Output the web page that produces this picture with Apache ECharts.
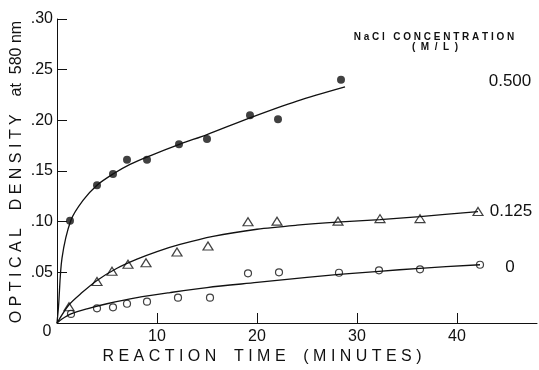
<!DOCTYPE html>
<html><head><meta charset="utf-8">
<script src="https://cdn.jsdelivr.net/npm/echarts@6/dist/echarts.min.js"></script>
<style>html,body{margin:0;padding:0;background:#fff}#c{width:539px;height:370px}</style>
</head><body><div id="c"></div>
<script>
// Measured points (minutes, optical density)
const x500 = [1.3, 4.0, 5.6, 7.0, 9.0, 12.2, 15.0, 19.3, 22.1, 28.4];
const y500 = [0.101, 0.136, 0.147, 0.161, 0.161, 0.1765, 0.1815, 0.205, 0.201, 0.240];
const x125 = [1.2, 4.0, 5.5, 7.1, 8.9, 12.0, 15.1, 19.1, 22.0, 28.1, 32.3, 36.3, 42.1];
const y125 = [0.016, 0.041, 0.051, 0.058, 0.0595, 0.070, 0.076, 0.100, 0.1005, 0.1005, 0.103, 0.103, 0.110];
const x0 = [1.4, 4.0, 5.6, 7.0, 9.0, 12.1, 15.3, 19.1, 22.2, 28.2, 32.2, 36.3, 42.3];
const y0 = [0.009, 0.0145, 0.0155, 0.019, 0.021, 0.025, 0.025, 0.049, 0.050, 0.0496, 0.052, 0.053, 0.0575];
// Fitted curves as drawn
const cx500 = [0, 0.15, 0.5, 1.4, 2.6, 4.0, 5.6, 7.3, 9.3, 12.3, 15.0, 19.3, 24.0, 28.8];
const cy500 = [0, 0.016, 0.064, 0.1016, 0.121, 0.136, 0.147, 0.1565, 0.165, 0.1765, 0.186, 0.2025, 0.219, 0.233];
const cx125 = [0, 1.2, 2.5, 4.0, 6.0, 8.0, 10.0, 12.3, 15.6, 20.0, 24.0, 28.0, 32.3, 36.3, 42.1];
const cy125 = [0, 0.018, 0.030, 0.042, 0.054, 0.063, 0.0705, 0.0775, 0.0855, 0.0925, 0.0965, 0.0995, 0.102, 0.105, 0.110];
const cx0 = [0, 0.5, 1.4, 3.0, 5.0, 8.0, 11.3, 15.0, 20.0, 25.0, 28.2, 32.2, 36.3, 42.3];
const cy0 = [0, 0.004, 0.009, 0.014, 0.019, 0.025, 0.030, 0.035, 0.040, 0.045, 0.048, 0.051, 0.054, 0.0575];
const xTicks = [10, 20, 30, 40];
const yTicks = [0.05, 0.10, 0.15, 0.20, 0.25, 0.30];
const yTickLabels = ['.05', '.10', '.15', '.20', '.25', '.30'];
const seriesLabels = ['0.500', '0.125', '0'];

const zip = (a, b) => a.map((v, i) => [v, b[i]]);
const ink = '#111';
const font = '"Liberation Sans", Arial, sans-serif';
const chart = echarts.init(document.getElementById('c'));
const curve = {type: 'line', smooth: 0.3, symbol: 'none', lineStyle: {color: ink, width: 1.3}};
chart.setOption({
  animation: false,
  backgroundColor: '#fff',
  grid: {left: 57, top: 19, right: 2, bottom: 47},
  xAxis: {
    type: 'value', min: 0, max: 48,
    splitLine: {show: false},
    axisLine: {lineStyle: {color: ink, width: 1}},
    axisTick: {inside: true, length: 10, customValues: xTicks, lineStyle: {color: ink}},
    axisLabel: {customValues: xTicks, color: ink, fontSize: 16, fontFamily: font, margin: 6}
  },
  yAxis: {
    type: 'value', min: 0, max: 0.30,
    splitLine: {show: false},
    axisLine: {lineStyle: {color: ink, width: 1}},
    axisTick: {inside: true, length: 10, customValues: yTicks, lineStyle: {color: ink}},
    axisLabel: {customValues: yTicks, color: ink, fontSize: 16, fontFamily: font, margin: 4,
      formatter: v => yTickLabels[yTicks.findIndex(t => Math.abs(t - v) < 1e-6)] || ''}
  },
  series: [
    Object.assign({data: zip(cx500, cy500)}, curve),
    Object.assign({data: zip(cx125, cy125)}, curve),
    Object.assign({data: zip(cx0, cy0)}, curve),
    {type: 'scatter', name: seriesLabels[0], data: zip(x500, y500), symbol: 'circle', symbolSize: 8,
      itemStyle: {color: ink}},
    {type: 'scatter', name: seriesLabels[1], data: zip(x125, y125), symbol: 'triangle', symbolSize: [10, 8],
      itemStyle: {color: '#fff', borderColor: ink, borderWidth: 1.2}},
    {type: 'scatter', name: seriesLabels[2], data: zip(x0, y0), symbol: 'circle', symbolSize: 7,
      itemStyle: {color: '#fff', borderColor: ink, borderWidth: 1.2}}
  ],
  graphic: [
    {type: 'text', x: 47, y: 332, style: {text: '0', fill: ink, font: '16px ' + font, textAlign: 'center', textVerticalAlign: 'middle'}},
    {type: 'text', x: 262, y: 357, style: {text: 'R E A C T I O N    T I M E    ( M I N U T E S )', fill: ink, font: '16px ' + font, textAlign: 'center', textVerticalAlign: 'middle'}},
    {type: 'text', x: 17, y: 172, rotation: Math.PI / 2, style: {text: 'O P T I C A L    D E N S I T Y    at  580 nm', fill: ink, font: '16px ' + font, textAlign: 'center', textVerticalAlign: 'middle'}},
    {type: 'text', x: 434, y: 37, style: {text: 'N a C l   C O N C E N T R A T I O N', fill: ink, font: 'bold 10px ' + font, textAlign: 'center', textVerticalAlign: 'middle'}},
    {type: 'text', x: 435, y: 47, style: {text: '(  M  /  L  )', fill: ink, font: 'bold 10px ' + font, textAlign: 'center', textVerticalAlign: 'middle'}},
    {type: 'text', x: 510, y: 81, style: {text: seriesLabels[0], fill: ink, font: '17px ' + font, textAlign: 'center', textVerticalAlign: 'middle'}},
    {type: 'text', x: 511, y: 211, style: {text: seriesLabels[1], fill: ink, font: '17px ' + font, textAlign: 'center', textVerticalAlign: 'middle'}},
    {type: 'text', x: 510, y: 267, style: {text: seriesLabels[2], fill: ink, font: '17px ' + font, textAlign: 'center', textVerticalAlign: 'middle'}}
  ]
});
</script></body></html>
